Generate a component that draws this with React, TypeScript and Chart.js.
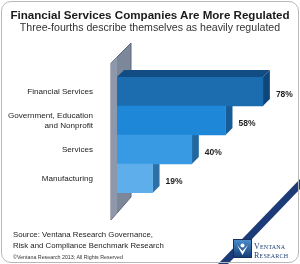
import React, { useEffect, useRef } from 'react';
import { Chart, registerables } from 'chart.js';

Chart.register(...registerables);

const categories: (string | string[])[] = [
  'Financial Services',
  ['Government, Education', 'and Nonprofit'],
  'Services',
  'Manufacturing',
];
const values = [78, 58, 40, 19];
const valueLabels = ['78%', '58%', '40%', '19%'];
const frontColors = ['#1c6db0', '#1f87d7', '#389ae3', '#5eaeec'];
const sideColors = ['#0f4679', '#175c97', '#21669f', '#2e6fa5'];
const topColor = '#114d84';

const titleText = 'Financial Services Companies Are More Regulated';
const subtitleText = 'Three-fourths describe themselves as heavily regulated';
const sourceLines = ['Source: Ventana Research Governance,', 'Risk and Compliance Benchmark Research'];
const copyrightText = '\u00A9Ventana Research 2013; All Rights Reserved';

const DEPTH = 7;

const decorPlugin = {
  id: 'decor3d',
  beforeDatasetsDraw(chart: any) {
    const ctx = chart.ctx;
    const area = chart.chartArea;
    const meta = chart.getDatasetMeta(0);
    const L = area.left;
    ctx.save();
    // background diagonal band (logo)
    ctx.beginPath();
    ctx.moveTo(218, 264);
    ctx.lineTo(300, 179);
    ctx.lineTo(300, 189);
    ctx.lineTo(228, 264);
    ctx.closePath();
    ctx.fillStyle = '#1d3b77';
    ctx.fill();
    // wall
    ctx.beginPath();
    ctx.moveTo(L - 6, area.top - 14);
    ctx.lineTo(L + 14, area.top - 34);
    ctx.lineTo(L + 14, area.bottom + 4);
    ctx.lineTo(L - 6, area.bottom + 27);
    ctx.closePath();
    ctx.fillStyle = '#7c879a';
    ctx.fill();
    ctx.strokeStyle = '#5c6576';
    ctx.lineWidth = 1;
    ctx.stroke();
    ctx.beginPath();
    ctx.moveTo(L - 6, area.top - 14);
    ctx.lineTo(L, area.top - 20);
    ctx.lineTo(L, area.bottom + 20);
    ctx.lineTo(L - 6, area.bottom + 27);
    ctx.closePath();
    ctx.fillStyle = '#8e98aa';
    ctx.fill();
    // side faces and top face
    meta.data.forEach((bar: any, i: number) => {
      const p = bar.getProps(['x', 'y', 'base', 'height'], true);
      const top = p.y - p.height / 2;
      const bottom = p.y + p.height / 2;
      const x2 = p.x;
      ctx.beginPath();
      ctx.moveTo(x2, top);
      ctx.lineTo(x2 + DEPTH, top - DEPTH);
      ctx.lineTo(x2 + DEPTH, bottom - DEPTH);
      ctx.lineTo(x2, bottom);
      ctx.closePath();
      ctx.fillStyle = sideColors[i];
      ctx.fill();
      if (i === 0) {
        ctx.beginPath();
        ctx.moveTo(L, top);
        ctx.lineTo(L + DEPTH, top - DEPTH);
        ctx.lineTo(x2 + DEPTH, top - DEPTH);
        ctx.lineTo(x2, top);
        ctx.closePath();
        ctx.fillStyle = topColor;
        ctx.fill();
      }
    });
    ctx.restore();
  },
  afterDatasetsDraw(chart: any) {
    const ctx = chart.ctx;
    const meta = chart.getDatasetMeta(0);
    ctx.save();
    ctx.font = 'bold 8.5px "Liberation Sans", Arial, sans-serif';
    ctx.fillStyle = '#1e1e1e';
    ctx.textBaseline = 'middle';
    ctx.textAlign = 'left';
    meta.data.forEach((bar: any, i: number) => {
      const p = bar.getProps(['x', 'y'], true);
      ctx.fillText(valueLabels[i], p.x + DEPTH + 6, p.y + 3);
    });
    // logo icon
    const gx = 234, gy = 240, gw = 17, gh = 17;
    const g = ctx.createLinearGradient(gx, gy, gx, gy + gh);
    g.addColorStop(0, '#4a8ccc');
    g.addColorStop(1, '#163f78');
    ctx.fillStyle = '#17305f';
    ctx.fillRect(gx - 1, gy - 1, gw + 2, gh + 2);
    ctx.fillStyle = g;
    ctx.fillRect(gx, gy, gw, gh);
    ctx.fillStyle = '#ffffff';
    ctx.beginPath();
    ctx.moveTo(gx + 3, gy + 5);
    ctx.lineTo(gx + 8.5, gy + 15);
    ctx.lineTo(gx + 14, gy + 5);
    ctx.lineTo(gx + 8.5, gy + 11);
    ctx.closePath();
    ctx.fill();
    ctx.beginPath();
    ctx.arc(gx + 8.5, gy + 5.5, 2, 0, Math.PI * 2);
    ctx.fill();
    ctx.restore();
  },
};

export default function App() {
  const ref = useRef<HTMLCanvasElement | null>(null);
  useEffect(() => {
    if (!ref.current) return;
    const chart = new Chart(ref.current, {
      type: 'bar',
      data: {
        labels: categories as any,
        datasets: [
          {
            data: values,
            backgroundColor: frontColors,
            borderWidth: 0,
            barPercentage: 1,
            categoryPercentage: 1,
          },
        ],
      },
      options: {
        indexAxis: 'y',
        responsive: false,
        animation: false,
        devicePixelRatio: 1,
        layout: { padding: { top: 77, bottom: 71, left: 0, right: 10 } },
        plugins: {
          legend: { display: false },
          tooltip: { enabled: false },
          title: { display: false },
        },
        scales: {
          x: { display: false, min: 0, max: 92.5 },
          y: {
            grid: { display: false },
            border: { display: false },
            ticks: {
              padding: 16,
              color: '#222',
              font: { family: '"Liberation Sans", Arial, sans-serif', size: 8.1, lineHeight: 1.28 },
            },
            afterFit(scale: any) {
              scale.width = 117;
            },
          },
        },
      },
      plugins: [decorPlugin],
    });
    return () => chart.destroy();
  }, []);

  const font = '"Liberation Sans", Arial, sans-serif';
  return (
    <div style={{ position: 'fixed', left: 0, top: 0, width: 300, height: 264, background: '#fff', overflow: 'hidden' }}>
      <canvas ref={ref} width={300} height={264} style={{ position: 'absolute', left: 0, top: 0, width: 300, height: 264 }} />
      <div style={{ position: 'absolute', left: 1, top: 1, width: 298, height: 262, border: '1px solid #b8b8b8', borderRadius: 10, boxSizing: 'border-box', pointerEvents: 'none' }} />
      <div style={{ position: 'absolute', left: 0, top: 8, width: 300, textAlign: 'center', fontFamily: font, fontWeight: 'bold', fontSize: 11.6, lineHeight: '14px', color: '#1a1a1a', whiteSpace: 'nowrap' }}>{titleText}</div>
      <div style={{ position: 'absolute', left: 0, top: 21, width: 300, textAlign: 'center', fontFamily: font, fontSize: 10.6, lineHeight: '13px', color: '#333', whiteSpace: 'nowrap' }}>{subtitleText}</div>
      <div style={{ position: 'absolute', left: 13, top: 229, fontFamily: font, fontSize: 7.8, lineHeight: '11px', color: '#222', whiteSpace: 'nowrap' }}>
        {sourceLines.map((l, i) => (<div key={i}>{l}</div>))}
      </div>
      <div style={{ position: 'absolute', left: 13, top: 254, fontFamily: font, fontSize: 5.3, lineHeight: '7px', color: '#333', whiteSpace: 'nowrap' }}>{copyrightText}</div>
      <div style={{ position: 'absolute', left: 254, top: 242, fontFamily: '"Liberation Serif", serif', color: '#1c3f74', lineHeight: '9px', whiteSpace: 'nowrap' }}>
        <div style={{ fontSize: 8, fontVariant: 'small-caps', letterSpacing: 0.2 }}>Ventana</div>
        <div style={{ fontSize: 8, fontVariant: 'small-caps', letterSpacing: 0.2 }}>Research</div>
      </div>
    </div>
  );
}
